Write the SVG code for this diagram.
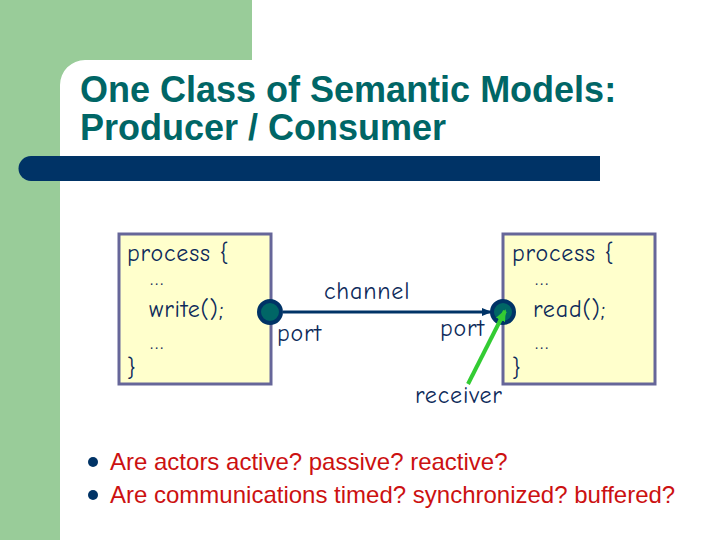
<svg xmlns="http://www.w3.org/2000/svg" width="720" height="540" viewBox="0 0 720 540">
<defs>
<style>
.code{font-family:"Comic Neue","DejaVu Sans","Noto Sans",sans-serif;font-size:24px;letter-spacing:0.8px;fill:#0d2a5a}
.dots{font-size:20px}
.title{font-family:"Liberation Sans",Arial,sans-serif;font-size:36px;font-weight:bold;fill:#006666}
.bul{font-family:"Liberation Sans",Arial,sans-serif;font-size:24px;fill:#cc1111}
.box{fill:#ffffcc;stroke:#666699;stroke-width:3}
.port{fill:#006666;stroke:#003366;stroke-width:4}
</style>
<marker id="ah" markerWidth="10" markerHeight="10" refX="9" refY="5" orient="auto" markerUnits="userSpaceOnUse">
<path d="M0,1 L10,5 L0,9 z" fill="#003366"/>
</marker>
<marker id="gh" markerWidth="12" markerHeight="12" refX="10" refY="6" orient="auto" markerUnits="userSpaceOnUse">
<path d="M0,1 L12,6 L0,11 z" fill="#33cc33"/>
</marker>
</defs>
<rect width="720" height="540" fill="#ffffff"/>
<path d="M0,0 H252 V60 H85 A25,25 0 0 0 60,85 V540 H0 Z" fill="#99cc99"/>
<path d="M31,156 H600 V181 H31 A12.5,12.5 0 0 1 31,156 Z" fill="#003366"/>
<text class="title" x="80" y="102">One Class of Semantic Models:</text>
<text class="title" x="80" y="140">Producer / Consumer</text>
<g id="producer">
<rect class="box" x="119" y="234" width="152" height="150"/>
<text class="code" x="127" y="261">process {</text>
<text class="code dots" x="150" y="285">…</text>
<text class="code" x="149" y="317">write();</text>
<text class="code dots" x="150" y="349">…</text>
<text class="code" x="127" y="376">}</text>
</g>
<g id="consumer">
<rect class="box" x="503" y="234" width="152" height="150"/>
<text class="code" x="512" y="261">process {</text>
<text class="code dots" x="535" y="285">…</text>
<text class="code" x="533" y="317">read();</text>
<text class="code dots" x="535" y="349">…</text>
<text class="code" x="512" y="376">}</text>
</g>
<g id="connectors">
<line x1="283" y1="312" x2="491" y2="312" stroke="#003366" stroke-width="3" marker-end="url(#ah)"/>
</g>
<g id="port-out">
<circle class="port" cx="270" cy="312" r="11"/>
<text class="code" x="277" y="341">port</text>
</g>
<g id="port-in">
<circle class="port" cx="503" cy="312" r="11"/>
<text class="code" x="440" y="336">port</text>
</g>
<g id="receiver-arrow">
<line x1="468" y1="384" x2="505" y2="311" stroke="#33cc33" stroke-width="4" marker-end="url(#gh)"/>
</g>
<text class="code" x="324" y="299">channel</text>
<text class="code" x="415" y="403">receiver</text>
<g id="bullets">
<circle cx="93" cy="462" r="5" fill="#003366"/>
<text class="bul" x="110" y="470">Are actors active? passive? reactive?</text>
<circle cx="93" cy="495" r="5" fill="#003366"/>
<text class="bul" x="110" y="503">Are communications timed? synchronized? buffered?</text>
</g>
</svg>
